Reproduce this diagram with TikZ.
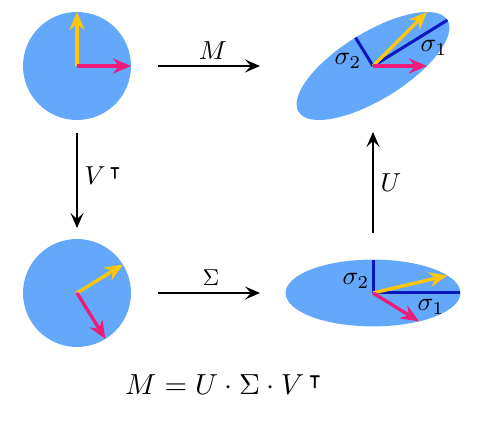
\documentclass[tikz,border=0pt]{standalone}
\usepackage{amssymb}
\usetikzlibrary{arrows.meta}
\definecolor{discblue}{RGB}{99,168,250}
\definecolor{vecyellow}{RGB}{255,198,10}
\definecolor{vecpink}{RGB}{238,28,120}
\definecolor{axisblue}{RGB}{8,24,190}
\begin{document}
\begin{tikzpicture}[x=1pt,y=1pt,
  disc/.style={fill=discblue},
  vec/.style={line width=3.4pt,-{Stealth[length=18pt,width=15pt,inset=6pt]}},
  yvec/.style={vec,draw=vecyellow},
  pvec/.style={vec,draw=vecpink},
  axisline/.style={draw=axisblue,line width=3pt},
  conn/.style={line width=1.8pt,-{Stealth[length=15pt,width=13pt,inset=6pt]}},
  lbl/.style={scale=2.6,inner sep=0pt},
  sig/.style={scale=2.6,inner sep=0pt}]
\useasboundingbox (0,0) rectangle (500,420);
\coordinate (A) at (77,354);
\coordinate (B) at (373,354);
\coordinate (C) at (77,127);
\coordinate (D) at (373,127);
% shapes
\fill[disc] (A) circle[radius=54];
\fill[disc] (C) circle[radius=54];
\fill[disc] (D) ellipse[x radius=87.4,y radius=33.4];
\fill[disc,rotate around={31.7:(B)}] (B) ellipse[x radius=87.4,y radius=33.4];
% top-left vectors
\draw[yvec] (A) -- ++(0,54);
\draw[pvec] (A) -- ++(54,0);
% bottom-left vectors
\draw[yvec] (C) -- ++(45.9,28.4);
\draw[pvec] (C) -- ++(28.4,-45.9);
% bottom-right
\draw[axisline] (D) -- ++(87.4,0);
\draw[axisline] (D) -- ++(0,33.4);
\draw[yvec] (D) -- ++(74.3,17.5);
\draw[pvec] (D) -- ++(45.9,-28.4);
% top-right
\draw[axisline] (B) -- ++(74.4,45.9);
\draw[axisline] (B) -- ++(-17.5,28.4);
\draw[yvec] (B) -- ++(54,54);
\draw[pvec] (B) -- ++(54,0);
% sigma labels
\node[sig] (s2t) at (348,359) {$\sigma_2$};
\node[sig] (s1t) at (434,372) {$\sigma_1$};
\node[sig] (s2b) at (356,139) {$\sigma_2$};
\node[sig] (s1b) at (431,113) {$\sigma_1$};
% connectors
\draw[conn,shorten <=81pt,shorten >=113pt] (A) -- (B);
\draw[conn,shorten <=67pt,shorten >=65pt] (A) -- (C);
\draw[conn,shorten <=60pt,shorten >=66pt] (D) -- (B);
\draw[conn,shorten <=81pt,shorten >=113pt] (C) -- (D);
% connector labels
\node[lbl] (lM) at (213,369) {$M$};
\node[scale=2.3,inner sep=0pt] (lS) at (211,142) {$\Sigma$};
\node[lbl] (lU) at (391,237) {$U$};
\node[lbl,anchor=west] (lV) at (84,244) {$V^{\,\intercal}$};
% formula
\node[scale=2.9,inner sep=0pt] (formula) at (224,35) {$M = U\cdot\Sigma\cdot V^{\,\intercal}$};
\end{tikzpicture}
\end{document}
